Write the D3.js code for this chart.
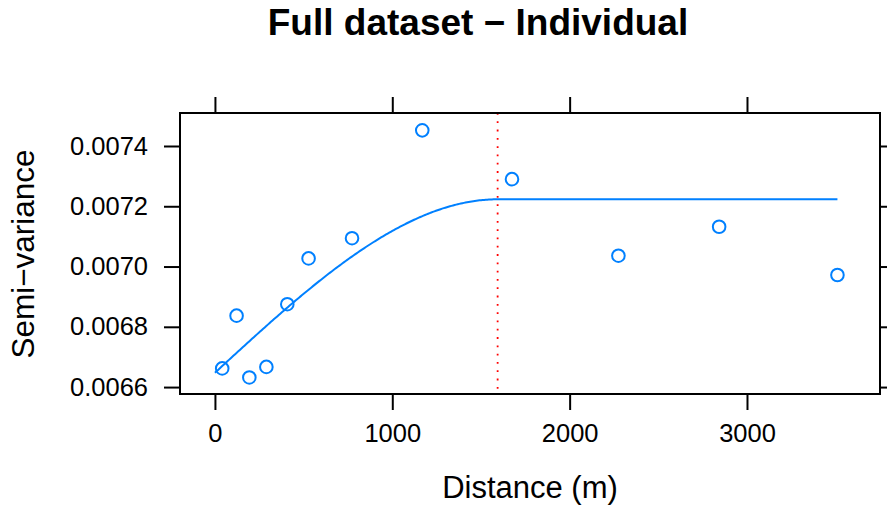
<!DOCTYPE html>
<html>
<head>
<meta charset="utf-8">
<script src="https://cdn.jsdelivr.net/npm/d3@7"></script>
<style>
  html, body { margin: 0; padding: 0; background: #fff; }
  svg { display: block; font-family: "Liberation Sans", Arial, sans-serif; }
</style>
</head>
<body>
<svg id="chart" width="887" height="508"></svg>
<script>
// Empirical semivariogram: lag distance (m) and semi-variance
const distances = [41, 122, 194, 290, 408, 528, 773, 1169, 1675, 2275, 2843, 3510];
const gammas    = [0.006662, 0.006837, 0.006632, 0.006667, 0.006875, 0.007027,
                   0.007094, 0.007452, 0.007290, 0.007036, 0.007132, 0.006972];

// Fitted spherical model parameters
const nugget = 0.0066475;
const psill  = 0.0005756;
const range  = 1594;

const xTicks = [0, 1000, 2000, 3000];
const yTicks = [0.0066, 0.0068, 0.0070, 0.0072, 0.0074];

const svg = d3.select("#chart");
const box = { left: 180, right: 880, top: 113, bottom: 394 };

const x = d3.scaleLinear().domain([-197, 3750]).range([box.left, box.right]);
const y = d3.scaleLinear().domain([0.006577, 0.0075095]).range([box.bottom, box.top]);

// Spherical variogram model
function spherical(h) {
  if (h >= range) return nugget + psill;
  const r = h / range;
  return nugget + psill * (1.5 * r - 0.5 * r * r * r);
}
const maxDist = d3.max(distances);
const modelH = d3.range(0, 401).map(i => i / 400 * maxDist);

// Range marker
svg.append("line")
  .attr("x1", x(range)).attr("x2", x(range))
  .attr("y1", box.top).attr("y2", box.bottom)
  .attr("stroke", "#ff0000").attr("stroke-width", 1.8)
  .attr("stroke-dasharray", "1.8,6.5");

// Model line
svg.append("path")
  .datum(modelH)
  .attr("fill", "none")
  .attr("stroke", "#0080ff")
  .attr("stroke-width", 2)
  .attr("d", d3.line().x(h => x(h)).y(h => y(spherical(h))));

// Points
svg.append("g").selectAll("circle")
  .data(distances.map((d, i) => [d, gammas[i]]))
  .join("circle")
  .attr("cx", d => x(d[0])).attr("cy", d => y(d[1]))
  .attr("r", 6.3)
  .attr("fill", "none")
  .attr("stroke", "#0080ff")
  .attr("stroke-width", 2);

// Axes on all four sides
const tickLen = 16;
const fmtY = d3.format(".4f");
const axB = svg.append("g").attr("transform", `translate(0,${box.bottom})`)
  .call(d3.axisBottom(x).tickValues(xTicks).tickSize(tickLen).tickPadding(14).tickFormat(d3.format("d")));
const axT = svg.append("g").attr("transform", `translate(0,${box.top})`)
  .call(d3.axisTop(x).tickValues(xTicks).tickSize(tickLen).tickFormat(""));
const axL = svg.append("g").attr("transform", `translate(${box.left},0)`)
  .call(d3.axisLeft(y).tickValues(yTicks).tickSize(tickLen).tickPadding(16).tickFormat(fmtY));
const axR = svg.append("g").attr("transform", `translate(${box.right},0)`)
  .call(d3.axisRight(y).tickValues(yTicks).tickSize(tickLen).tickFormat(""));

[axB, axT, axL, axR].forEach(a => {
  a.select(".domain").remove();
  a.selectAll(".tick line").attr("stroke", "#000").attr("stroke-width", 2);
  a.selectAll(".tick text").attr("fill", "#000").attr("font-size", 25.5)
    .attr("font-family", "Liberation Sans, Arial, sans-serif");
});

// Panel border
svg.append("rect")
  .attr("x", box.left).attr("y", box.top)
  .attr("width", box.right - box.left).attr("height", box.bottom - box.top)
  .attr("fill", "none").attr("stroke", "#000").attr("stroke-width", 2);

// Titles
svg.append("text")
  .attr("x", 478).attr("y", 35)
  .attr("text-anchor", "middle")
  .attr("font-size", 37).attr("font-weight", "bold")
  .text("Full dataset \u2212 Individual");

svg.append("text")
  .attr("x", 530).attr("y", 498)
  .attr("text-anchor", "middle")
  .attr("font-size", 31)
  .text("Distance (m)");

svg.append("text")
  .attr("transform", `translate(34,254) rotate(-90)`)
  .attr("text-anchor", "middle")
  .attr("font-size", 31.5)
  .text("Semi\u2212variance");
</script>
</body>
</html>
